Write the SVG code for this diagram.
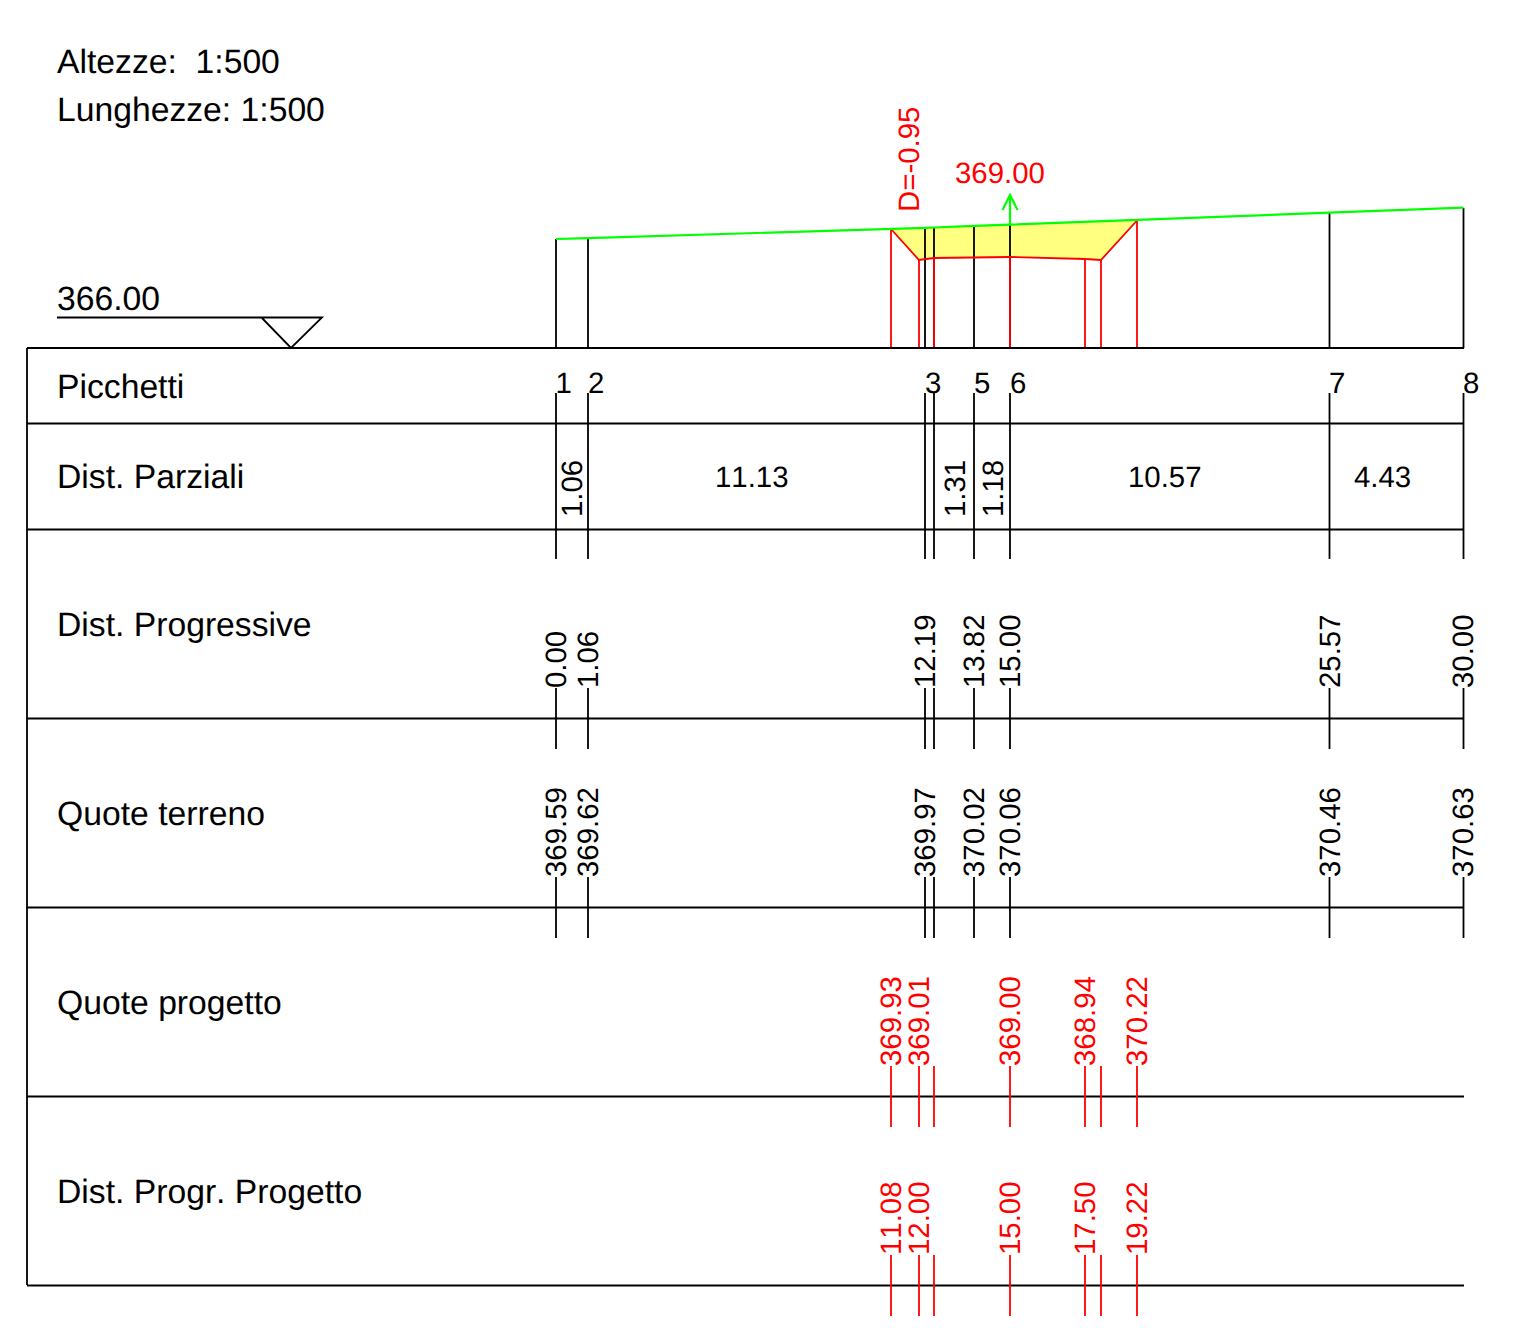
<svg xmlns="http://www.w3.org/2000/svg" width="1527" height="1336" viewBox="0 0 1527 1336">
<style>
text{font-family:"Liberation Sans",Arial,sans-serif;font-size:29.4px;fill:#000;text-rendering:geometricPrecision;font-kerning:none}
.lbl{font-size:33.7px}
.r{fill:#f00}
line,polyline,path{fill:none}
.k{stroke:#000;stroke-width:1.8}
.rl{stroke:#f00;stroke-width:1.8}
.g{stroke:#0f0;stroke-width:2.2}
</style>
<rect width="1527" height="1336" fill="#fff"/>
<g id="scale">
<text class="lbl" x="57" y="73">Altezze:&#160; 1:500</text>
<text class="lbl" x="57" y="121">Lunghezze: 1:500</text>
</g>
<g id="datum">
<text class="lbl" x="57" y="310">366.00</text>
<path class="k" d="M57 317.500H322L291 348L261.500 317.500"/>
</g>
<g id="profile">
<polygon points="891,229 919,260 934,258 1010,257 1085,259 1101,260 1137,220.500 1010,224.600 934,227.500" fill="#ffff80"/>
<path class="k" d="M556 239V348M588 238V348M925 228V348M934 227V348M974 226V348M1010 224V348M1329.500 213V348M1463.500 208V348"/>
<path class="rl" d="M891 229V348M919 260V348M934 258V348M1010 257V348M1085 259V348M1101 260V348M1137 220.500V348"/>
<polyline class="rl" points="891,229 919,260 934,258 1010,257 1085,259 1101,260 1137,220.500"/>
<polyline class="g" points="556,239 588,238.200 925,227.800 934,227.500 974,225.800 1010,224.600 1329.500,212.700 1463.500,207.700"/>
<path class="g" d="M1010 224V195M1002.500 210L1010 195L1017.500 210"/>
<text class="r" transform="translate(918.500 212) rotate(-90)">D=-0.95</text>
<text class="r" x="955" y="183">369.00</text>
</g>
<g id="table">
<path class="k" d="M27 348H1464M27 423.500H1464M27 529.500H1464M27 718.500H1464M27 907.500H1464M27 1096.500H1464M27 1285.500H1464M27 348V1285"/>
<text class="lbl" x="57" y="398">Picchetti</text>
<text class="lbl" x="57" y="488">Dist. Parziali</text>
<text class="lbl" x="57" y="636">Dist. Progressive</text>
<text class="lbl" x="57" y="825">Quote terreno</text>
<text class="lbl" x="57" y="1014">Quote progetto</text>
<text class="lbl" x="57" y="1203">Dist. Progr. Progetto</text>
</g>
<g id="connectors">
<path class="k" d="M556 393V559M588 393V559M925 393V559M934 393V559M974 393V559M1010 393V559M1329.500 393V559M1463.500 393V559"/>
<path class="k" d="M556 688V749M588 688V749M925 688V749M934 688V749M974 688V749M1010 688V749M1329.500 688V749M1463.500 688V749"/>
<path class="k" d="M556 877V938M588 877V938M925 877V938M934 877V938M974 877V938M1010 877V938M1329.500 877V938M1463.500 877V938"/>
<path class="rl" d="M891 1066V1127M919 1066V1127M934 1066V1127M1010 1066V1127M1085 1066V1127M1101 1066V1127M1137 1066V1127"/>
<path class="rl" d="M891 1255V1316M919 1255V1316M934 1255V1316M1010 1255V1316M1085 1255V1316M1101 1255V1316M1137 1255V1316"/>
</g>
<g id="picchetti">
<text x="555.500" y="393">1</text><text x="588" y="393">2</text><text x="925" y="393">3</text><text x="974" y="393">5</text><text x="1010" y="393">6</text><text x="1329" y="393">7</text><text x="1463" y="393">8</text>
</g>
<g id="parziali">
<text transform="translate(582 517) rotate(-90)">1.06</text>
<text x="715" y="487">11.13</text>
<text transform="translate(965 517) rotate(-90)">1.31</text>
<text transform="translate(1003 517) rotate(-90)">1.18</text>
<text x="1128" y="487">10.57</text>
<text x="1354" y="487">4.43</text>
</g>
<g id="progressive">
<text transform="translate(565.500 688) rotate(-90)">0.00</text>
<text transform="translate(597.500 688) rotate(-90)">1.06</text>
<text transform="translate(934.500 688) rotate(-90)">12.19</text>
<text transform="translate(983.500 688) rotate(-90)">13.82</text>
<text transform="translate(1019.500 688) rotate(-90)">15.00</text>
<text transform="translate(1339.500 688) rotate(-90)">25.57</text>
<text transform="translate(1473 688) rotate(-90)">30.00</text>
</g>
<g id="terreno">
<text transform="translate(565.500 877) rotate(-90)">369.59</text>
<text transform="translate(597.500 877) rotate(-90)">369.62</text>
<text transform="translate(934.500 877) rotate(-90)">369.97</text>
<text transform="translate(983.500 877) rotate(-90)">370.02</text>
<text transform="translate(1019.500 877) rotate(-90)">370.06</text>
<text transform="translate(1339.500 877) rotate(-90)">370.46</text>
<text transform="translate(1473 877) rotate(-90)">370.63</text>
</g>
<g id="quote-progetto">
<text class="r" transform="translate(900.500 1066) rotate(-90)">369.93</text>
<text class="r" transform="translate(928.500 1066) rotate(-90)">369.01</text>
<text class="r" transform="translate(1019.500 1066) rotate(-90)">369.00</text>
<text class="r" transform="translate(1094.500 1066) rotate(-90)">368.94</text>
<text class="r" transform="translate(1146.500 1066) rotate(-90)">370.22</text>
</g>
<g id="dist-progetto">
<text class="r" transform="translate(900.500 1255) rotate(-90)">11.08</text>
<text class="r" transform="translate(928.500 1255) rotate(-90)">12.00</text>
<text class="r" transform="translate(1019.500 1255) rotate(-90)">15.00</text>
<text class="r" transform="translate(1094.500 1255) rotate(-90)">17.50</text>
<text class="r" transform="translate(1146.500 1255) rotate(-90)">19.22</text>
</g>
</svg>
